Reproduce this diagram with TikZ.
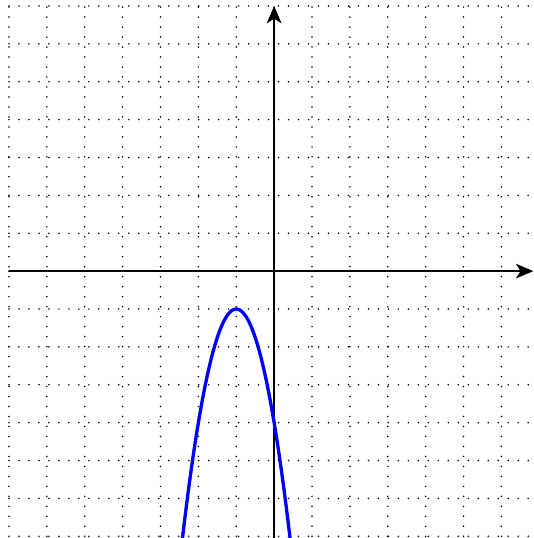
\documentclass[tikz,border=0pt]{standalone}
\usetikzlibrary{arrows.meta}
\begin{document}
\begin{tikzpicture}[
  gridline/.style={line width=1.3pt, line cap=round, dash pattern=on 0pt off 7.5pt, black},
  axisline/.style={line width=1.6pt, black, -{Stealth[length=13pt,width=11pt,inset=3.5pt]}},
  curve/.style={line width=2.5pt, blue}
]
\useasboundingbox (-7.237,-7.045) rectangle (6.841,7.158);
\draw[gridline] (-7,-7) grid (6.841,7);
\coordinate (xs) at (-7,0);
\coordinate (xe) at (6.841,0);
\coordinate (ys) at (0,-7.045);
\coordinate (ye) at (0,7);
\draw[axisline] (xs) -- (xe);
\draw[axisline] (ys) -- (ye);
\draw[curve, domain=-2.43:0.43, samples=120] plot (\x, {-3*(\x+1)^2-1});
\end{tikzpicture}
\end{document}
